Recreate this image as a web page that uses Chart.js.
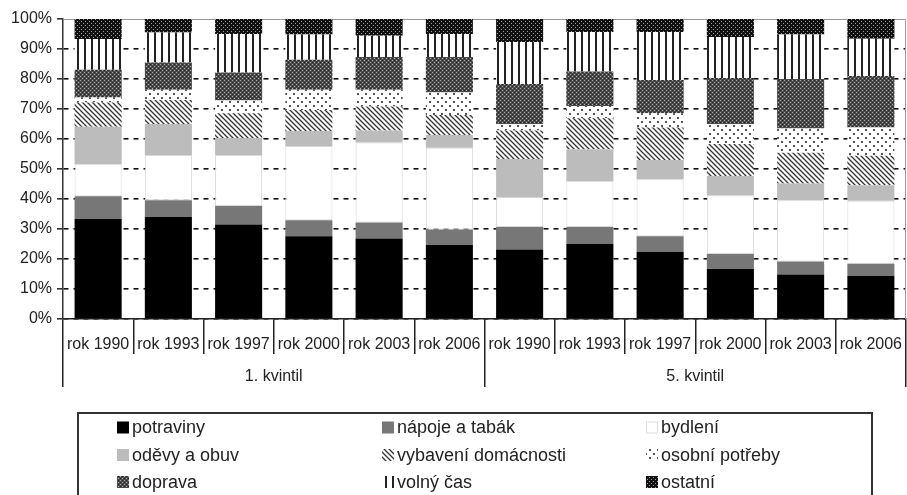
<!DOCTYPE html>
<html>
<head>
<meta charset="utf-8">
<script src="https://cdn.jsdelivr.net/npm/chart.js@4/dist/chart.umd.min.js"></script>
<style>
  html, body { margin: 0; padding: 0; background: #fff; }
  #wrap { width: 907px; height: 495px; }
</style>
</head>
<body>
<div id="wrap"><canvas id="graph" width="907" height="495"></canvas></div>
<script>
// categories
const years = ['rok 1990', 'rok 1993', 'rok 1997', 'rok 2000', 'rok 2003', 'rok 2006',
               'rok 1990', 'rok 1993', 'rok 1997', 'rok 2000', 'rok 2003', 'rok 2006'];
const groups = ['1. kvintil', '5. kvintil'];
const yTicks = [0, 10, 20, 30, 40, 50, 60, 70, 80, 90, 100];

// shares in %
const potraviny = [33.3, 34.0, 31.5, 27.6, 26.8, 24.7, 23.2, 25.0, 22.3, 16.7, 14.8, 14.3];
const napoje    = [7.6, 5.6, 6.2, 5.3, 5.4, 5.1, 7.5, 5.7, 5.3, 5.0, 4.4, 4.1];
const bydleni   = [10.7, 15.1, 17.0, 24.8, 26.6, 27.3, 10.0, 15.2, 19.0, 19.5, 20.4, 21.0];
const odevy     = [12.5, 10.3, 5.6, 5.0, 4.0, 4.2, 12.6, 10.7, 6.4, 6.5, 5.6, 5.2];
const vybaveni  = [8.1, 8.0, 8.3, 7.0, 8.0, 6.7, 9.5, 10.3, 10.8, 10.6, 10.2, 9.8];
const osobni    = [1.6, 3.4, 4.2, 6.7, 5.6, 7.5, 2.2, 4.1, 4.8, 6.7, 8.1, 9.4];
const doprava   = [9.3, 9.1, 9.4, 10.0, 10.9, 11.8, 13.3, 11.5, 11.1, 15.3, 16.5, 17.2];
const volnyCas  = [10.2, 10.0, 12.8, 8.4, 7.1, 7.7, 14.0, 13.2, 16.0, 13.7, 14.8, 12.4];
const ostatni   = [6.7, 4.5, 5.0, 5.2, 5.6, 5.0, 7.7, 4.3, 4.3, 6.0, 5.2, 6.6];

const FONT = 'Liberation Sans, Arial, Helvetica, sans-serif';
const canvas = document.getElementById('graph');
const mainCtx = canvas.getContext('2d');

// small tiled fills like the b/w hatching of the original
function pattern(size, draw) {
  const c = document.createElement('canvas');
  c.width = size; c.height = size;
  const g = c.getContext('2d');
  draw(g, size);
  return mainCtx.createPattern(c, 'repeat');
}

const stripes = pattern(5, (g, s) => {
  g.fillStyle = '#fff'; g.fillRect(0, 0, s, s);
  g.strokeStyle = '#333'; g.lineWidth = 1.3;
  g.beginPath();
  g.moveTo(-1, -1); g.lineTo(s + 1, s + 1);
  g.moveTo(-1, s - 1); g.lineTo(1, s + 1);
  g.moveTo(s - 1, -1); g.lineTo(s + 1, 1);
  g.stroke();
});
const sparseDots = pattern(8, (g, s) => {
  g.fillStyle = '#fff'; g.fillRect(0, 0, s, s);
  g.fillStyle = '#555';
  g.fillRect(1, 1, 2, 2);
  g.fillRect(5, 5, 2, 2);
});
const darkMesh = pattern(4, (g, s) => {
  g.fillStyle = '#4a4a4a'; g.fillRect(0, 0, s, s);
  g.fillStyle = '#b0b0b0';
  g.fillRect(0, 0, 1, 1);
  g.fillRect(2, 2, 1, 1);
  g.fillStyle = '#222';
  g.fillRect(2, 0, 1, 1);
  g.fillRect(0, 2, 1, 1);
});
const vLines = pattern(7, (g, s) => {
  g.fillStyle = '#fff'; g.fillRect(0, 0, s, s);
  g.fillStyle = '#222'; g.fillRect(0, 0, 2, s);
});
const blackDots = pattern(4, (g, s) => {
  g.fillStyle = '#111'; g.fillRect(0, 0, s, s);
  g.fillStyle = '#a0a0a0';
  g.fillRect(1, 1, 1, 1);
  g.fillRect(3, 3, 1, 1);
});

function ds(label, data, fill, border) {
  return {
    label: label,
    data: data,
    backgroundColor: fill,
    borderColor: border || fill,
    borderWidth: border ? 1 : 0,
    borderSkipped: false,
    barPercentage: 0.67,
    categoryPercentage: 1.0,
    xAxisID: 'x'
  };
}

// frame: thin grey line on top and right of the plot
const frame = {
  id: 'frame',
  beforeDatasetsDraw(chart) {
    const a = chart.chartArea, c = chart.ctx;
    c.save();
    c.strokeStyle = '#999'; c.lineWidth = 1;
    c.beginPath();
    c.moveTo(a.left, a.top + 0.5); c.lineTo(a.right - 0.5, a.top + 0.5); c.lineTo(a.right - 0.5, a.bottom);
    c.stroke();
    c.restore();
  }
};

// boxed 3-column legend under the axis
const boxLegend = {
  id: 'boxLegend',
  afterDraw(chart) {
    const c = chart.ctx;
    const colX = [117, 382, 646];
    const rowY = [427.5, 455, 482];
    c.save();
    c.strokeStyle = '#333'; c.lineWidth = 2;
    c.beginPath();
    c.moveTo(78, 500); c.lineTo(78, 413); c.lineTo(872, 413); c.lineTo(872, 500);
    c.stroke();
    c.font = '18px ' + FONT;
    c.textBaseline = 'middle';
    c.fillStyle = '#222';
    chart.data.datasets.forEach((d, i) => {
      const x = colX[i % 3], y = rowY[Math.floor(i / 3)];
      c.fillStyle = d.backgroundColor;
      c.fillRect(x, y - 6, 12, 12);
      if (d.borderWidth) {
        c.strokeStyle = '#ddd'; c.lineWidth = 1;
        c.strokeRect(x + 0.5, y - 5.5, 11, 11);
      }
      c.fillStyle = '#222';
      c.fillText(d.label, x + 15, y + 1);
    });
    c.restore();
  }
};

new Chart(canvas, {
  type: 'bar',
  data: {
    labels: years,
    datasets: [
      ds('potraviny', potraviny, '#000'),
      ds('nápoje a tabák', napoje, '#777'),
      ds('bydlení', bydleni, '#fff', '#d8d8d8'),
      ds('oděvy a obuv', odevy, '#bcbcbc'),
      ds('vybavení domácnosti', vybaveni, stripes),
      ds('osobní potřeby', osobni, sparseDots),
      ds('doprava', doprava, darkMesh),
      ds('volný čas', volnyCas, vLines),
      ds('ostatní', ostatni, blackDots)
    ]
  },
  options: {
    responsive: false,
    animation: false,
    layout: { padding: { top: 19, right: 1, left: 0, bottom: 107 } },
    plugins: {
      legend: { display: false },
      tooltip: { enabled: false }
    },
    scales: {
      x: {
        stacked: true,
        weight: 0,
        grid: { offset: true, drawOnChartArea: false, tickLength: 35, color: '#222', lineWidth: 1.5 },
        border: { display: true, color: '#222', width: 1.5 },
        ticks: { font: { family: FONT, size: 16 }, color: '#222', padding: -19, maxRotation: 0, minRotation: 0, autoSkip: false },
        afterFit: s => { s.height = 35; }
      },
      x2: {
        type: 'category',
        position: 'bottom',
        labels: groups,
        weight: 1,
        offset: true,
        grid: { offset: true, drawOnChartArea: false, tickLength: 33, color: '#222', lineWidth: 1.5 },
        border: { display: false },
        ticks: { font: { family: FONT, size: 16 }, color: '#222', padding: -20, maxRotation: 0, minRotation: 0 },
        afterFit: s => { s.height = 34; }
      },
      y: {
        stacked: true,
        min: 0,
        max: 100,
        afterBuildTicks: s => { s.ticks = yTicks.map(v => ({ value: v })); },
        grid: {
          color: c => (c.tick && c.tick.value === 100) ? 'rgba(0,0,0,0)' : '#111',
          lineWidth: 1.6,
          tickLength: 6,
          tickColor: '#333',
          tickBorderDash: []
        },
        border: { display: true, color: '#333', width: 1.5, dash: [5, 5] },
        ticks: { font: { family: FONT, size: 16 }, color: '#222', padding: 5, callback: v => v + '%' },
        afterFit: s => { s.width = 63; }
      }
    }
  },
  plugins: [frame, boxLegend]
});
</script>
</body>
</html>
